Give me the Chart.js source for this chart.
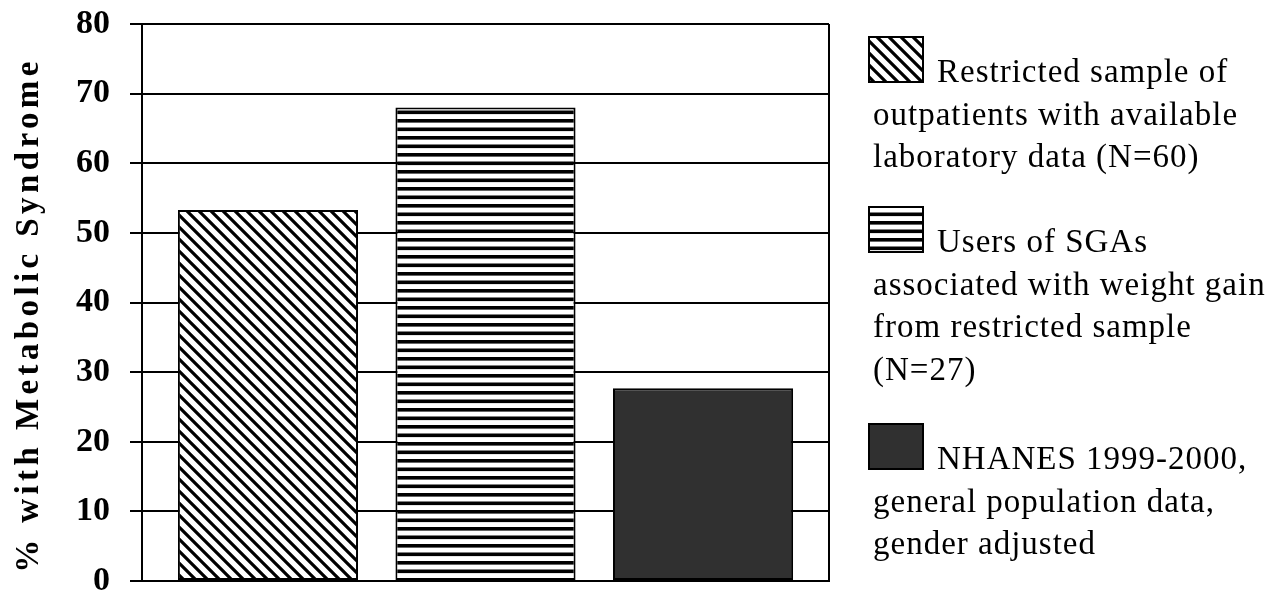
<!DOCTYPE html>
<html>
<head>
<meta charset="utf-8">
<script src="https://cdn.jsdelivr.net/npm/chart.js@4.4.1/dist/chart.umd.min.js"></script>
<style>
  html, body { margin: 0; padding: 0; background: #fff; }
  #wrap { width: 1285px; height: 596px; }
</style>
</head>
<body>
<div id="wrap"><canvas id="chart" width="1285" height="596"></canvas></div>
<script>
// Prevalence of metabolic syndrome (%) for three groups
const categories = [''];
const seriesNames = [
  ['Restricted sample of', 'outpatients with available', 'laboratory data (N=60)'],
  ['Users of SGAs', 'associated with weight gain', 'from restricted sample', '(N=27)'],
  ['NHANES 1999-2000,', 'general population data,', 'gender adjusted']
];
const prevalence = [53.3, 68, 27.7];
const yTicks = [0, 10, 20, 30, 40, 50, 60, 70, 80];
const yTitle = '% with Metabolic Syndrome';

const SERIF = "'Liberation Serif', 'Times New Roman', serif";

// Fill patterns: diagonal hatch, horizontal stripes, solid dark
function diagonalHatch() {
  const s = 12;
  const c = document.createElement('canvas');
  c.width = s; c.height = s;
  const g = c.getContext('2d');
  g.fillStyle = '#fff'; g.fillRect(0, 0, s, s);
  g.strokeStyle = '#000'; g.lineWidth = 3.2;
  g.beginPath();
  for (const k of [-1, 0, 1]) {
    g.moveTo(-s, -s + k * s);
    g.lineTo(2 * s, 2 * s + k * s);
  }
  g.stroke();
  return g.createPattern(c, 'repeat');
}
function horizontalStripes() {
  const c = document.createElement('canvas');
  c.width = 4; c.height = 17;
  const g = c.getContext('2d');
  g.fillStyle = '#fff'; g.fillRect(0, 0, 4, 17);
  g.fillStyle = '#000';
  g.fillRect(0, 0, 4, 3.6);
  g.fillRect(0, 8.5, 4, 3.6);
  return g.createPattern(c, 'repeat');
}
const fills = [diagonalHatch(), horizontalStripes(), '#303030'];

const whiteBackground = {
  id: 'whiteBackground',
  beforeDraw(chart) {
    const ctx = chart.ctx;
    ctx.save();
    ctx.fillStyle = '#fff';
    ctx.fillRect(0, 0, chart.width, chart.height);
    ctx.restore();
  }
};

// Rotated y-axis title, letter-spaced
const axisTitle = {
  id: 'axisTitle',
  afterDraw(chart) {
    const ctx = chart.ctx;
    ctx.save();
    ctx.translate(29, 315);
    ctx.rotate(-Math.PI / 2);
    ctx.font = 'bold 33px ' + SERIF;
    ctx.letterSpacing = '4.4px';
    ctx.fillStyle = '#000';
    ctx.textAlign = 'center';
    ctx.textBaseline = 'middle';
    ctx.fillText(yTitle, 0, 0);
    ctx.restore();
  }
};

// Legend on the right: swatch followed by wrapped text
const sideLegend = {
  id: 'sideLegend',
  afterDraw(chart) {
    const ctx = chart.ctx;
    const swatchTops = [37, 207, 424];
    const swX = 869, swW = 54, swH = 45, lineGap = 42.5;
    ctx.save();
    ctx.font = '33px ' + SERIF;
    ctx.letterSpacing = '1px';
    ctx.fillStyle = '#000';
    ctx.textBaseline = 'alphabetic';
    chart.data.datasets.forEach((ds, i) => {
      const top = swatchTops[i];
      ctx.fillStyle = ds.backgroundColor;
      ctx.fillRect(swX, top, swW, swH);
      ctx.strokeStyle = '#000';
      ctx.lineWidth = 2;
      ctx.strokeRect(swX, top, swW, swH);
      ctx.fillStyle = '#000';
      const lines = seriesNames[i];
      const base = top + swH;
      lines.forEach((ln, j) => {
        ctx.fillText(ln, j === 0 ? 937 : 873, base + j * lineGap);
      });
    });
    ctx.restore();
  }
};

new Chart(document.getElementById('chart'), {
  type: 'bar',
  data: {
    labels: categories,
    datasets: seriesNames.map((name, i) => ({
      label: name.join(' '),
      data: [prevalence[i]],
      backgroundColor: fills[i],
      borderColor: '#000',
      borderWidth: 2,
      borderSkipped: false,
      barPercentage: 0.828,
      categoryPercentage: 0.95
    }))
  },
  options: {
    responsive: false,
    animation: false,
    layout: { padding: { left: 0, right: 456, top: 24, bottom: 15 } },
    plugins: {
      legend: { display: false },
      tooltip: { enabled: false }
    },
    scales: {
      x: {
        offset: true,
        afterFit(scale) { scale.height = 0; },
        ticks: { display: false },
        grid: { display: true, offset: true, color: '#000', lineWidth: 2, drawTicks: false },
        border: { display: true, color: '#000', width: 2 }
      },
      y: {
        min: 0,
        max: 80,
        afterBuildTicks(scale) { scale.ticks = yTicks.map(v => ({ value: v })); },
        afterFit(scale) {
          scale.width = 142;
          scale.paddingTop = 0;
          scale.paddingBottom = 0;
        },
        ticks: {
          color: '#000',
          padding: 20,
          font: { family: SERIF, size: 34, weight: 'bold', lineHeight: 0.8 }
        },
        grid: { color: '#000', lineWidth: 2, tickLength: 12, tickColor: '#000', tickWidth: 2 },
        border: { display: true, color: '#000', width: 2 }
      }
    }
  },
  plugins: [whiteBackground, axisTitle, sideLegend]
});
</script>
</body>
</html>
